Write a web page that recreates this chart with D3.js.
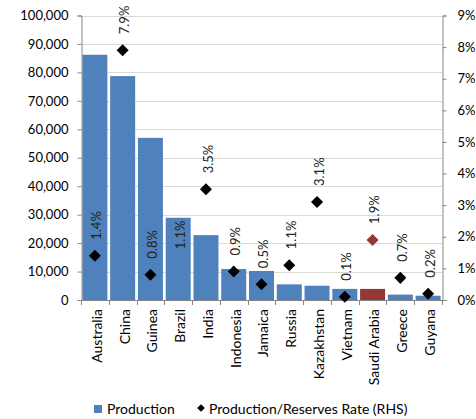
<!DOCTYPE html>
<html>
<head>
<meta charset="utf-8">
<script src="https://cdn.jsdelivr.net/npm/d3@7"></script>
<style>
  html, body { margin: 0; padding: 0; background: #fff; }
  svg { display: block; font-family: Lato, "Open Sans", sans-serif; }
</style>
</head>
<body>
<svg id="chart" width="476" height="419"></svg>
<script>
// Bauxite production (thousand tonnes) and production/reserves rate by country
const countries = ["Australia", "China", "Guinea", "Brazil", "India", "Indonesia", "Jamaica",
  "Russia", "Kazakhstan", "Vietnam", "Saudi Arabia", "Greece", "Guyana"];
const production = [86200, 78700, 57000, 28900, 22800, 10900, 10200, 5500, 5000, 3900, 3900, 1900, 1500];
const ratePct = [1.4, 7.9, 0.8, 1.1, 3.5, 0.9, 0.5, 1.1, 3.1, 0.1, 1.9, 0.7, 0.2];
const highlighted = ["Saudi Arabia"];
const hiddenMarkers = ["Brazil"];
const leftTicks = [0, 10000, 20000, 30000, 40000, 50000, 60000, 70000, 80000, 90000, 100000];
const rightTicks = [0, 1, 2, 3, 4, 5, 6, 7, 8, 9];
const legendLabels = ["Production", "Production/Reserves Rate (RHS)"];

const blue = "#4F81BD", red = "#953735", axisGray = "#868686", gridGray = "#D9D9D9";

const svg = d3.select("#chart");
const m = { left: 81, right: 442, top: 15.5, bottom: 300 };

const x = d3.scaleBand().domain(countries).range([m.left, m.right]).paddingInner(0.1).paddingOuter(0.05);
const yL = d3.scaleLinear().domain([0, 100000]).range([m.bottom, m.top]);
const yR = d3.scaleLinear().domain([0, 9]).range([m.bottom, m.top]);

// gridlines
svg.append("g").selectAll("line").data(leftTicks.filter(d => d > 0)).join("line")
  .attr("x1", m.left).attr("x2", m.right)
  .attr("y1", d => Math.round(yL(d)) + 0.5).attr("y2", d => Math.round(yL(d)) + 0.5)
  .attr("stroke", gridGray).attr("stroke-width", 1);

// bars
svg.append("g").selectAll("rect").data(countries).join("rect")
  .attr("x", d => x(d))
  .attr("width", x.bandwidth())
  .attr("y", (d, i) => yL(production[i]))
  .attr("height", (d, i) => yL(0) - yL(production[i]))
  .attr("fill", d => highlighted.includes(d) ? red : blue);

// left axis
const axL = svg.append("g").attr("transform", `translate(${m.left + 0.5},0)`)
  .call(d3.axisLeft(yL).tickValues(leftTicks).tickSize(4).tickPadding(9).tickFormat(d3.format(",")));
// right axis
const axR = svg.append("g").attr("transform", `translate(${m.right + 0.5},0)`)
  .call(d3.axisRight(yR).tickValues(rightTicks).tickSize(4).tickPadding(11).tickFormat(d => d + "%"));
[axL, axR].forEach(a => {
  a.select(".domain").attr("stroke", axisGray);
  a.selectAll(".tick line").attr("stroke", axisGray);
  a.selectAll(".tick text").attr("fill", "#000").style("font-size", "13px").style("font-family", "Lato, sans-serif");
});

// bottom axis with ticks at category boundaries
const bounds = d3.range(countries.length + 1).map(i => m.left + i * (m.right - m.left) / countries.length);
const axB = svg.append("g");
axB.append("line").attr("x1", m.left).attr("x2", m.right)
  .attr("y1", m.bottom + 0.5).attr("y2", m.bottom + 0.5).attr("stroke", axisGray);
axB.selectAll("line.tk").data(bounds).join("line").attr("class", "tk")
  .attr("x1", d => Math.round(d) + 0.5).attr("x2", d => Math.round(d) + 0.5)
  .attr("y1", m.bottom).attr("y2", m.bottom + 5).attr("stroke", axisGray);
axB.selectAll("text").data(countries).join("text")
  .attr("transform", d => `translate(${x(d) + x.bandwidth() / 2 + 2},${m.bottom + 9}) rotate(-90)`)
  .attr("text-anchor", "end").attr("dy", "0.35em")
  .style("font-size", "14px").text(d => d);

// diamonds
const diamond = d3.symbol().type(d3.symbolDiamond2).size(92);
svg.append("g").selectAll("path").data(countries).join("path")
  .attr("d", diamond)
  .attr("transform", (d, i) => `translate(${x(d) + x.bandwidth() / 2},${yR(ratePct[i])})`)
  .attr("fill", d => highlighted.includes(d) ? red : "#000")
  .attr("display", d => hiddenMarkers.includes(d) ? "none" : null);

// rate labels
svg.append("g").selectAll("text").data(countries).join("text")
  .attr("transform", (d, i) => `translate(${x(d) + x.bandwidth() / 2 + 2},${yR(ratePct[i]) - 16}) rotate(-90)`)
  .attr("dy", "0.35em").attr("text-anchor", "start")
  .style("font-size", "13px").attr("fill", "#222")
  .text((d, i) => d3.format(".1f")(ratePct[i]) + "%");

// legend
const lg = svg.append("g").attr("transform", "translate(0,409)");
lg.append("rect").attr("x", 94).attr("y", -4).attr("width", 8).attr("height", 8).attr("fill", blue);
lg.append("text").attr("x", 107).attr("dy", "0.35em").style("font-size", "14px").text(legendLabels[0]);
lg.append("path").attr("d", d3.symbol().type(d3.symbolDiamond2).size(38)).attr("transform", "translate(201,-1)");
lg.append("text").attr("x", 209).attr("dy", "0.35em").style("font-size", "14px").text(legendLabels[1]);
</script>
</body>
</html>
